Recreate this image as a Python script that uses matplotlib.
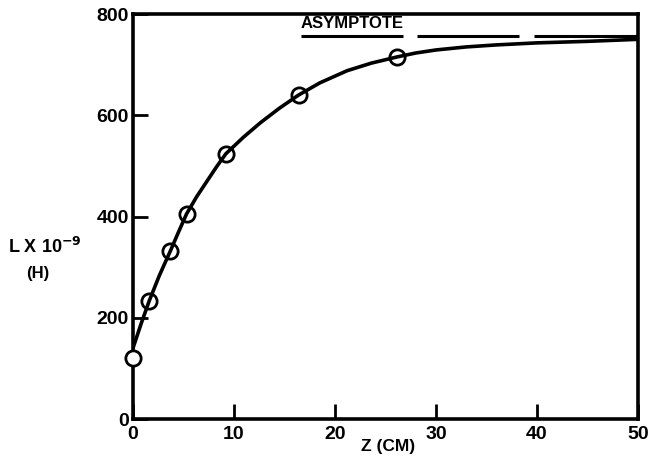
import matplotlib
matplotlib.use("Agg")
import matplotlib.pyplot as plt

plt.rcParams['font.family'] = ['Liberation Sans', 'DejaVu Sans']
plt.rcParams['font.weight'] = 'bold'

# measured points
z_pts = [0.0, 1.6, 3.7, 5.3, 9.2, 16.4, 26.1]
L_pts = [120, 233, 332, 405, 524, 640, 715]

# fitted smooth curve
z_curve = [0.0, 0.8, 1.6, 2.6, 3.7, 4.5, 5.3, 6.3, 7.4, 8.3, 9.2, 10.9, 12.6,
           14.5, 16.4, 18.5, 21.2, 23.6, 26.1, 28.0, 30.0, 33.0, 36.0, 40.0,
           45.0, 50.0]
L_curve = [140, 188, 233, 283, 332, 369, 405, 439, 472, 499, 524, 556, 585,
           614, 640, 664, 688, 703, 715, 723, 729, 735, 739, 743,
           746, 750]

# asymptote segments
asym_level = 757
asym_start = [16.6, 28.1, 39.7]
asym_end = [26.7, 38.2, 50.0]

x_ticks = [0, 10, 20, 30, 40, 50]
y_ticks = [0, 200, 400, 600, 800]

fig = plt.figure(figsize=(6.51, 4.61), dpi=100)
ax = fig.add_axes([0.2043, 0.0911, 0.7757, 0.8785])

ax.plot(z_curve, L_curve, color='black', lw=2.6, solid_capstyle='round',
        solid_joinstyle='round', zorder=3)
ax.plot(z_pts[1:], L_pts[1:], 'o', ms=11, mfc='none', mec='black', mew=2.0, zorder=4)
ax.plot(z_pts[:1], L_pts[:1], 'o', ms=11, mfc='white', mec='black', mew=2.0,
        zorder=5, clip_on=False)
ax.hlines([asym_level] * len(asym_start), asym_start, asym_end, color='black', lw=2.2, zorder=3)
ax.text(16.6, 766, 'ASYMPTOTE', fontsize=12, fontweight='bold', ha='left', va='bottom')

ax.set_xlim(0, 50)
ax.set_ylim(0, 800)
ax.set_xticks(x_ticks)
ax.set_yticks(y_ticks)
ax.set_xticklabels([str(v) for v in x_ticks], fontsize=14, fontweight='bold')
ax.set_yticklabels([str(v) for v in y_ticks], fontsize=14, fontweight='bold')
ax.tick_params(direction='in', length=11, width=2, pad=3)
ax.tick_params(axis='x', pad=5)
for s in ax.spines.values():
    s.set_linewidth(2.6)

fig.text(45 / 651, 1 - 247 / 461, 'L X 10$^{\\mathbf{-9}}$', fontsize=13, fontweight='bold', ha='center', va='center')
fig.text(38 / 651, 1 - 273 / 461, '(H)', fontsize=12, fontweight='bold', ha='center', va='center')
fig.text(388 / 651, 1 - 446 / 461, 'Z (CM)', fontsize=12.5, fontweight='bold', ha='center', va='center')

fig.savefig('out.png', dpi=100)
